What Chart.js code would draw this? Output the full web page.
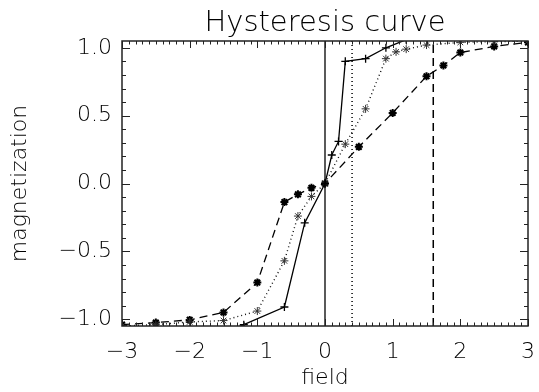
<!DOCTYPE html>
<html>
<head>
<meta charset="utf-8">
<title>Hysteresis curve</title>
<script src="https://cdn.jsdelivr.net/npm/chart.js@4/dist/chart.umd.min.js"></script>
<style>
  html, body { margin: 0; padding: 0; background: #fff; }
  #hystChart { display: block; }
</style>
</head>
<body>
<canvas id="hystChart" width="539" height="392"></canvas>
<script>
// values (points past the frame get clipped)
const fieldSolid = [-3.0, -1.5, -1.2, -0.6, -0.3, 0.0, 0.1, 0.2, 0.3, 0.6, 0.9, 1.2, 1.5, 3.0];
const magSolid   = [-1.1, -1.1, -1.04, -0.91, -0.29, 0.0, 0.21, 0.31, 0.90, 0.92, 1.0, 1.06, 1.1, 1.1];

const fieldDotted = [-3.0, -2.5, -2.0, -1.5, -1.0, -0.6, -0.4, -0.2, 0.0, 0.3, 0.6, 0.9, 1.05, 1.2, 1.5, 2.0, 2.5, 3.0];
const magDotted   = [-1.05, -1.04, -1.02, -1.01, -0.94, -0.57, -0.24, -0.095, 0.0, 0.29, 0.55, 0.92, 0.97, 0.99, 1.02, 1.04, 1.045, 1.05];

const fieldDashed = [-3.0, -2.5, -2.0, -1.5, -1.0, -0.6, -0.4, -0.2, 0.0, 0.5, 1.0, 1.5, 1.75, 2.0, 2.5, 3.0];
const magDashed   = [-1.04, -1.025, -1.005, -0.95, -0.73, -0.137, -0.08, -0.032, 0.0, 0.27, 0.52, 0.79, 0.87, 0.965, 1.01, 1.04];

// vertical marker lines: solid, dotted, dashed
const markerField = [0.0, 0.4, 1.6];

const xTicks = [-3, -2, -1, 0, 1, 2, 3];
const yTicks = [-1.0, -0.5, 0.0, 0.5, 1.0];
const xMin = -3, xMax = 3, yMin = -1.05, yMax = 1.05;
const minorStep = 0.1;

const FONT = "DejaVu Sans";
const WEIGHT = 200;
const dashStyles = [[], [1, 3], [8, 5]];

function toPoints(xs, ys) {
  return xs.map((x, i) => ({ x: x, y: ys[i] }));
}

const datasets = [
  {
    data: toPoints(fieldSolid, magSolid),
    borderColor: "#000",
    borderWidth: 1.3,
    pointStyle: "cross",
    pointRadius: 4,
    pointBorderWidth: 1.3,
    pointBorderColor: "#000",
  },
  {
    data: toPoints(fieldDotted, magDotted),
    borderColor: "#111",
    borderWidth: 1.4,
    borderDash: dashStyles[1],
    pointStyle: "star",
    pointRadius: 4,
    pointBorderWidth: 1,
    pointBorderColor: "#333",
  },
  {
    data: toPoints(fieldDashed, magDashed),
    borderColor: "#000",
    borderWidth: 1.3,
    borderDash: dashStyles[2],
    pointStyle: "star",
    pointRadius: 4,
    pointBorderWidth: 2,
    pointBorderColor: "#000",
  },
];

markerField.forEach((f, i) => {
  datasets.push({
    data: [{ x: f, y: yMin }, { x: f, y: yMax }],
    borderColor: "#000",
    borderWidth: i === 0 ? 1.3 : 1.5,
    borderDash: dashStyles[i],
    pointRadius: 0,
  });
});

// IDL-like frame with inward major/minor ticks on all four sides
const frameTicks = {
  id: "frameTicks",
  afterDatasetsDraw(chart) {
    const { ctx, chartArea: a, scales } = chart;
    ctx.save();
    ctx.strokeStyle = "#222";
    ctx.lineWidth = 1.5;
    ctx.strokeRect(a.left, a.top, a.right - a.left, a.bottom - a.top);
    ctx.lineWidth = 1;
    ctx.beginPath();
    const nx = Math.round((xMax - xMin) / minorStep);
    for (let i = 0; i <= nx; i++) {
      const v = xMin + i * minorStep;
      const px = Math.round(scales.x.getPixelForValue(v)) + 0.5;
      const len = i % 10 === 0 ? 7 : 3.5;
      ctx.moveTo(px, a.bottom);
      ctx.lineTo(px, a.bottom - len);
      ctx.moveTo(px, a.top);
      ctx.lineTo(px, a.top + len);
    }
    for (let i = -10; i <= 10; i++) {
      const v = i * minorStep;
      const py = Math.round(scales.y.getPixelForValue(v)) + 0.5;
      const len = i % 5 === 0 ? 8 : 4;
      ctx.moveTo(a.left, py);
      ctx.lineTo(a.left + len, py);
      ctx.moveTo(a.right, py);
      ctx.lineTo(a.right - len, py);
    }
    ctx.stroke();
    ctx.restore();
  },
};

const minus = (s) => s.replace("-", "\u2212");

new Chart(document.getElementById("hystChart"), {
  type: "line",
  data: { datasets: datasets },
  plugins: [frameTicks],
  options: {
    responsive: false,
    animation: false,
    plugins: {
      legend: { display: false },
      tooltip: { enabled: false },
    },
    elements: { line: { tension: 0, fill: false } },
    scales: {
      x: {
        type: "linear",
        position: "bottom",
        min: xMin,
        max: xMax,
        afterBuildTicks: (s) => { s.ticks = xTicks.map((v) => ({ value: v })); },
        afterFit: (s) => {
          s.height = 66;
          s.paddingLeft = 0;
          s.paddingRight = 11;
        },
        grid: { display: false, drawTicks: false },
        border: { display: false },
        ticks: {
          padding: 13,
          color: "#000",
          font: { family: FONT, size: 22, weight: WEIGHT },
          callback: (v) => minus(String(v)),
        },
        title: {
          display: true,
          text: "field",
          color: "#000",
          font: { family: FONT, size: 22, weight: WEIGHT },
          padding: { top: 0, bottom: 1 },
        },
      },
      x2: {
        type: "linear",
        axis: "x",
        position: "top",
        min: xMin,
        max: xMax,
        afterFit: (s) => {
          s.height = 41;
          s.paddingLeft = 0;
          s.paddingRight = 0;
        },
        grid: { display: false, drawTicks: false },
        border: { display: false },
        ticks: { display: false },
        title: {
          display: true,
          text: "Hysteresis curve",
          color: "#000",
          font: { family: FONT, size: 29, weight: WEIGHT },
          padding: { top: 6, bottom: 0 },
        },
      },
      y: {
        type: "linear",
        position: "left",
        min: yMin,
        max: yMax,
        afterBuildTicks: (s) => { s.ticks = yTicks.map((v) => ({ value: v })); },
        afterFit: (s) => { s.width = 122; },
        grid: { display: false, drawTicks: false },
        border: { display: false },
        ticks: {
          padding: 10,
          color: "#000",
          font: { family: FONT, size: 22, weight: WEIGHT },
          callback: (v) => minus(v.toFixed(1)),
        },
        title: {
          display: true,
          text: "magnetization",
          color: "#000",
          font: { family: FONT, size: 22, weight: WEIGHT },
          padding: { top: 7, bottom: 0 },
        },
      },
    },
  },
});
</script>
</body>
</html>
